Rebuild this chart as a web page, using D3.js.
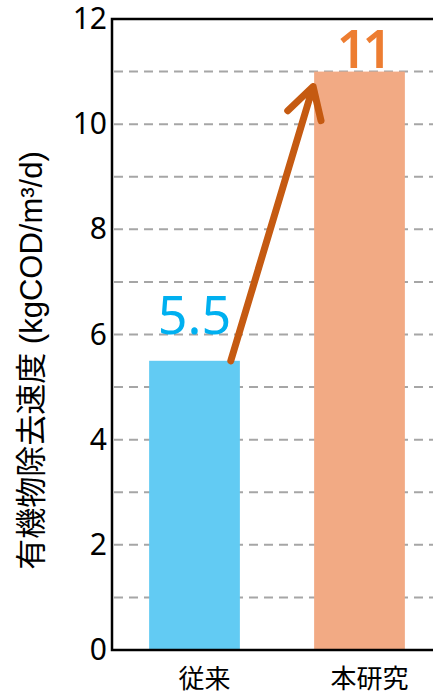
<!DOCTYPE html>
<html><head><meta charset="utf-8">
<script src="https://cdn.jsdelivr.net/npm/d3@7"></script>
<style>body{margin:0;background:#fff}svg{display:block}</style>
</head><body>
<script>
const categories = ["従来", "本研究"];
const values = [5.5, 11];
const valueLabels = ["5.5", "11"];
const yTicks = [0, 2, 4, 6, 8, 10, 12];
const gridValues = [1, 2, 3, 4, 5, 6, 7, 8, 9, 10, 11];
const yTitle = "有機物除去速度 (kgCOD/m³/d)";

const W = 433, H = 695;
const mLeft = 112, mRight = 442, mTop = 19, mBottom = 650;
const barColors = ["#62CBF3", "#F2AA84"];
const labelColors = ["#00B0F0", "#ED7D31"];

const svg = d3.select("body").append("svg").attr("width", W).attr("height", H);
const x = d3.scaleBand().domain(categories).range([mLeft, mRight]).paddingInner(0.45).paddingOuter(0.225);
const y = d3.scaleLinear().domain([0, 12]).range([mBottom, mTop]);

// gridlines
svg.append("g").selectAll("line").data(gridValues).join("line")
  .attr("x1", mLeft + 2).attr("x2", mRight)
  .attr("y1", d => y(d)).attr("y2", d => y(d))
  .attr("stroke", "#a6a6a6").attr("stroke-width", 2).attr("stroke-dasharray", "9,6");

// bars
svg.append("g").selectAll("rect").data(values).join("rect")
  .attr("x", (d, i) => x(categories[i])).attr("width", x.bandwidth())
  .attr("y", d => y(d)).attr("height", d => y(0) - y(d))
  .attr("fill", (d, i) => barColors[i]);

// frame
svg.append("path")
  .attr("d", `M${mRight},${mTop}H${mLeft}V${mBottom}H${mRight}`)
  .attr("fill", "none").attr("stroke", "#000").attr("stroke-width", 2.5);

// y axis labels
const yAxis = d3.axisLeft(y).tickValues(yTicks).tickSize(0).tickPadding(5);
const ga = svg.append("g").attr("transform", `translate(${mLeft},0)`).call(yAxis);
ga.select(".domain").remove();
ga.selectAll("text").attr("font-family", "'Noto Sans','Open Sans',sans-serif").attr("font-size", 30).attr("fill", "#000");

// category labels
svg.append("g").selectAll("text").data(categories).join("text")
  .attr("x", d => x(d) + x.bandwidth() / 2 + 10).attr("y", 688)
  .attr("text-anchor", "middle")
  .attr("font-family", "'Noto Sans CJK JP',sans-serif").attr("font-size", 26).attr("fill", "#000")
  .text(d => d);

// value labels
const labelOffsets = [27, 4];
const labelSpacing = [0, -4];
svg.append("g").selectAll("text").data(values).join("text")
  .attr("x", (d, i) => x(categories[i]) + x.bandwidth() / 2 + (i ? 3 : 0))
  .attr("y", (d, i) => y(d) - labelOffsets[i])
  .attr("text-anchor", "middle")
  .attr("font-family", "'Noto Sans','Open Sans',sans-serif")
  .attr("font-size", 52)
  .attr("font-weight", (d, i) => i ? 600 : 400)
  .attr("letter-spacing", (d, i) => labelSpacing[i])
  .attr("fill", (d, i) => labelColors[i])
  .text((d, i) => valueLabels[i]);

// arrow
const x0 = x(categories[0]) + x.bandwidth() * 0.9, y0 = y(values[0]);
const x1 = x(categories[1]) - 1, y1 = y(values[1]) + 15;
const ang = Math.atan2(y1 - y0, x1 - x0);
const headLen = 35, headAng = 0.52;
const arrowColor = "#C55A11";
svg.append("path")
  .attr("d", `M${x0},${y0}L${x1},${y1}` +
    `M${x1 - headLen * Math.cos(ang - headAng)},${y1 - headLen * Math.sin(ang - headAng)}L${x1},${y1}` +
    `L${x1 - headLen * Math.cos(ang + headAng)},${y1 - headLen * Math.sin(ang + headAng)}`)
  .attr("fill", "none").attr("stroke", arrowColor).attr("stroke-width", 7)
  .attr("stroke-linecap", "round").attr("stroke-linejoin", "round");

// y title
svg.append("text")
  .attr("transform", `translate(31,${(mTop + mBottom) / 2 + 26}) rotate(-90)`)
  .attr("text-anchor", "middle").attr("dominant-baseline", "central")
  .attr("font-family", "'Liberation Sans','Noto Sans CJK JP',sans-serif")
  .attr("font-size", 31).attr("fill", "#000")
  .text(yTitle);
</script>
</body></html>
